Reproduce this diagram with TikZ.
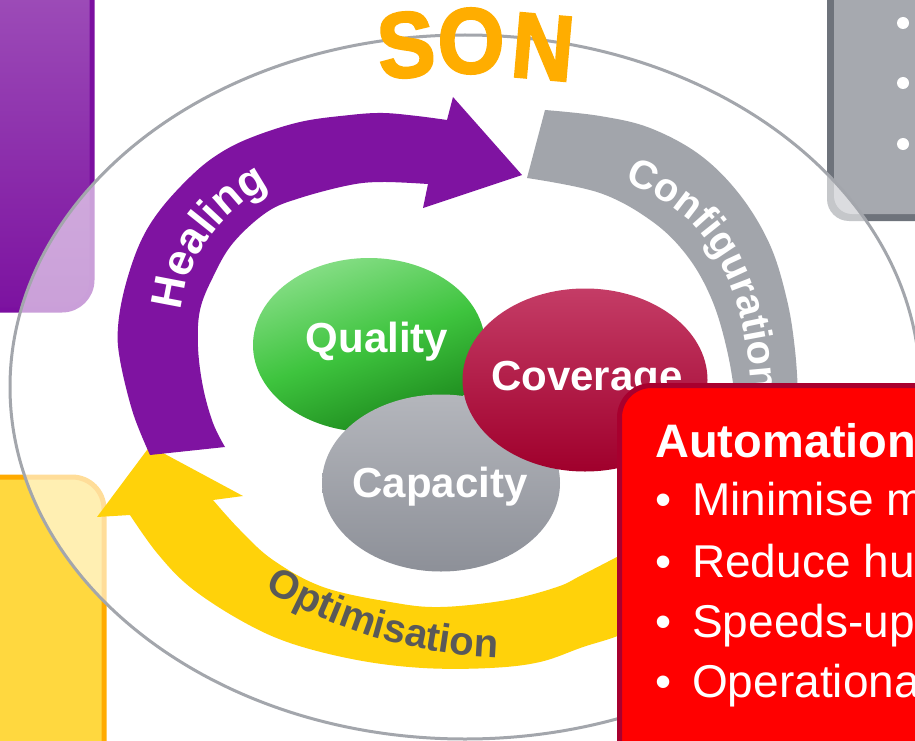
\documentclass[tikz,border=0pt]{standalone}
\usepackage{fontspec}
\setmainfont{Liberation Sans}
\newfontfamily\sonfont{Liberation Sans}[BoldFeatures={FakeBold=2.5}]
\usetikzlibrary{shapes.geometric,decorations.text}
\definecolor{purpedge}{HTML}{7B0FA0}
\definecolor{purptop}{HTML}{A052BA}
\definecolor{purpbot}{HTML}{7C12A0}
\definecolor{purparrow}{HTML}{7F13A1}
\definecolor{greyedge}{HTML}{6E737B}
\definecolor{greyfill}{HTML}{A6A9AF}
\definecolor{yelledge}{HTML}{FFAB00}
\definecolor{yellfill}{HTML}{FFD83F}
\definecolor{yellarrow}{HTML}{FFD20A}
\definecolor{ringgrey}{HTML}{A3A6AC}
\definecolor{configgrey}{HTML}{A2A5AB}
\definecolor{sonorange}{HTML}{FFAD00}
\definecolor{optgrey}{HTML}{595959}
\definecolor{qtop}{HTML}{86DE86}
\definecolor{qmid}{HTML}{3EC43E}
\definecolor{qbot}{HTML}{1B861B}
\definecolor{ctop}{HTML}{C43C66}
\definecolor{cbot}{HTML}{A0002C}
\definecolor{ktop}{HTML}{B4B6BC}
\definecolor{kbot}{HTML}{8D9098}
\definecolor{redge}{HTML}{A8002E}
\definecolor{redfill}{HTML}{FF0000}
\newcommand\bandfont{\bfseries\fontsize{40}{44}\selectfont}
\newcommand\healfont{\bfseries\fontsize{44}{48}\selectfont}
\tikzset{
  bubtxt/.style={font=\bfseries\fontsize{42}{50}\selectfont, text=white, inner sep=0pt, anchor=base},
  boxtxt/.style={font=\fontsize{46}{55}\selectfont, text=white, inner sep=0pt, anchor=base west},
  sonletter/.style={font=\sonfont\bfseries\fontsize{86}{92}\selectfont, text=sonorange, inner sep=0pt},
  bubble/.style={ellipse, inner sep=0pt, draw=none},
}
\begin{document}
\begin{tikzpicture}[x=1pt,y=-1pt]
\clip (0,0) rectangle (915,741);
\fill[white] (0,0) rectangle (915,741);

% side boxes
\draw[line width=5pt, draw=purpedge, top color=purptop, bottom color=purpbot, rounded corners=30pt] (-40,-40) rectangle (92,310);
\fill[greyedge, rounded corners=22pt] (827,-40) rectangle (960,221);
\fill[greyfill, rounded corners=18pt] (834,-40) rectangle (960,214);
\fill[white] (903,23) circle (6pt);
\fill[white] (903,83) circle (6pt);
\fill[white] (903,144) circle (6pt);
\draw[line width=5pt, draw=yelledge, fill=yellfill, rounded corners=32pt] (-40,477) rectangle (104,800);

% big ring
\draw[line width=3pt, draw=ringgrey, fill=white, fill opacity=0.6] (465,387) ellipse [x radius=455pt, y radius=352pt];

% SON
\node[sonletter, rotate=5] (sonS) at (406,45) {\scalebox{1}[1.08]{S}};
\node[sonletter] (sonO) at (471,41) {\scalebox{1}[1.08]{O}};
\node[sonletter, rotate=-5] (sonN) at (543,47) {\scalebox{1}[1.08]{N}};

% Optimisation arrow (yellow)
\fill[yellarrow] plot[smooth, tension=0.6] coordinates {(660,615) (620,635) (583,647) (540,662) (490,668) (423,668) (357,660) (290,643) (240,620) (190,587) (157,553) (130,515)}
  -- (97,517) -- (150,446) -- (243,496) -- (213,500)
  -- plot[smooth, tension=0.6] coordinates {(213,500) (240,530) (273,560) (323,587) (390,602) (440,607) (507,600) (557,587) (582,575) (640,545)} -- cycle;

% Healing arrow (purple)
\fill[purparrow] plot[smooth, tension=0.6] coordinates {(150,455) (133,413) (120,360) (118,327) (125,287) (140,243) (160,210) (190,177) (217,155) (250,138) (300,122) (350,115) (383,113) (417,116) (447,120)}
  -- (453,97) -- (522,175) -- (423,208) -- (428,184)
  -- plot[smooth, tension=0.6] coordinates {(428,184) (383,182) (350,185) (300,198) (267,212) (233,243) (213,277) (200,310) (198,347) (203,387) (213,423) (225,447)} -- cycle;

% Configuration arc (grey)
\fill[configgrey] plot[smooth, tension=0.6] coordinates {(545,110) (600,116) (650,128) (700,155) (740,195) (770,245) (787,300) (795,350) (798,400) (797,450)}
  -- plot[smooth, tension=0.6] coordinates {(737,450) (735,400) (727,350) (712,300) (688,257) (653,222) (600,193) (527,178)} -- cycle;

% band labels
\path[decorate, decoration={text along path, text align=left, text={|\healfont\color{white}|Healing}}]
  plot[smooth] coordinates {(181,311) (186,285) (197,258) (214,232) (236,209) (260,192) (286,180) (320,170) (360,165)};
\path[decorate, decoration={text along path, text align=left, text={|\bandfont\color{white}|Configuration}}]
  plot[smooth] coordinates {(624,182) (643,190) (685,217) (716,255) (736,300) (747,350) (752,400) (754,450) (752,500)};
\path[decorate, decoration={text align=left, text along path, text={|\bandfont\color{optgrey}|Optimisation}}]
  plot[smooth] coordinates {(265,590) (320,617) (370,636) (430,650) (490,657) (560,655) (620,645)};

% bubbles
\node[bubble, minimum width=232pt, minimum height=174pt, top color=qtop, bottom color=qbot, middle color=qmid, shading angle=20] (quality) at (369,345) {};
\node[bubble, minimum width=238pt, minimum height=177pt, top color=ktop, bottom color=kbot] (capacity) at (441,483) {};
\node[bubble, minimum width=245pt, minimum height=183pt, top color=ctop, bottom color=cbot] (coverage) at (585,380) {};
\node[bubtxt] (qualitytxt) at (377,352) {Quality};
\node[bubtxt] (capacitytxt) at (440,497) {Capacity};
\node[bubtxt] (coveragetxt) at (587,390) {Coverage};

% red box
\draw[line width=5pt, draw=redge, fill=redfill, rounded corners=32pt] (619.5,385.5) rectangle (960,800);
\node[boxtxt, font=\bfseries\fontsize{47}{55}\selectfont] (autotitle) at (655,457) {Automation};
\node[boxtxt] (b1) at (655,515) {•};
\node[boxtxt] (t1) at (692,515) {Minimise m};
\node[boxtxt] (b2) at (655,577) {•};
\node[boxtxt] (t2) at (692,577) {Reduce hu};
\node[boxtxt] (b3) at (655,637) {•};
\node[boxtxt] (t3) at (692,637) {Speeds-up};
\node[boxtxt] (b4) at (655,697) {•};
\node[boxtxt] (t4) at (692,697) {Operationa};
\end{tikzpicture}
\end{document}
